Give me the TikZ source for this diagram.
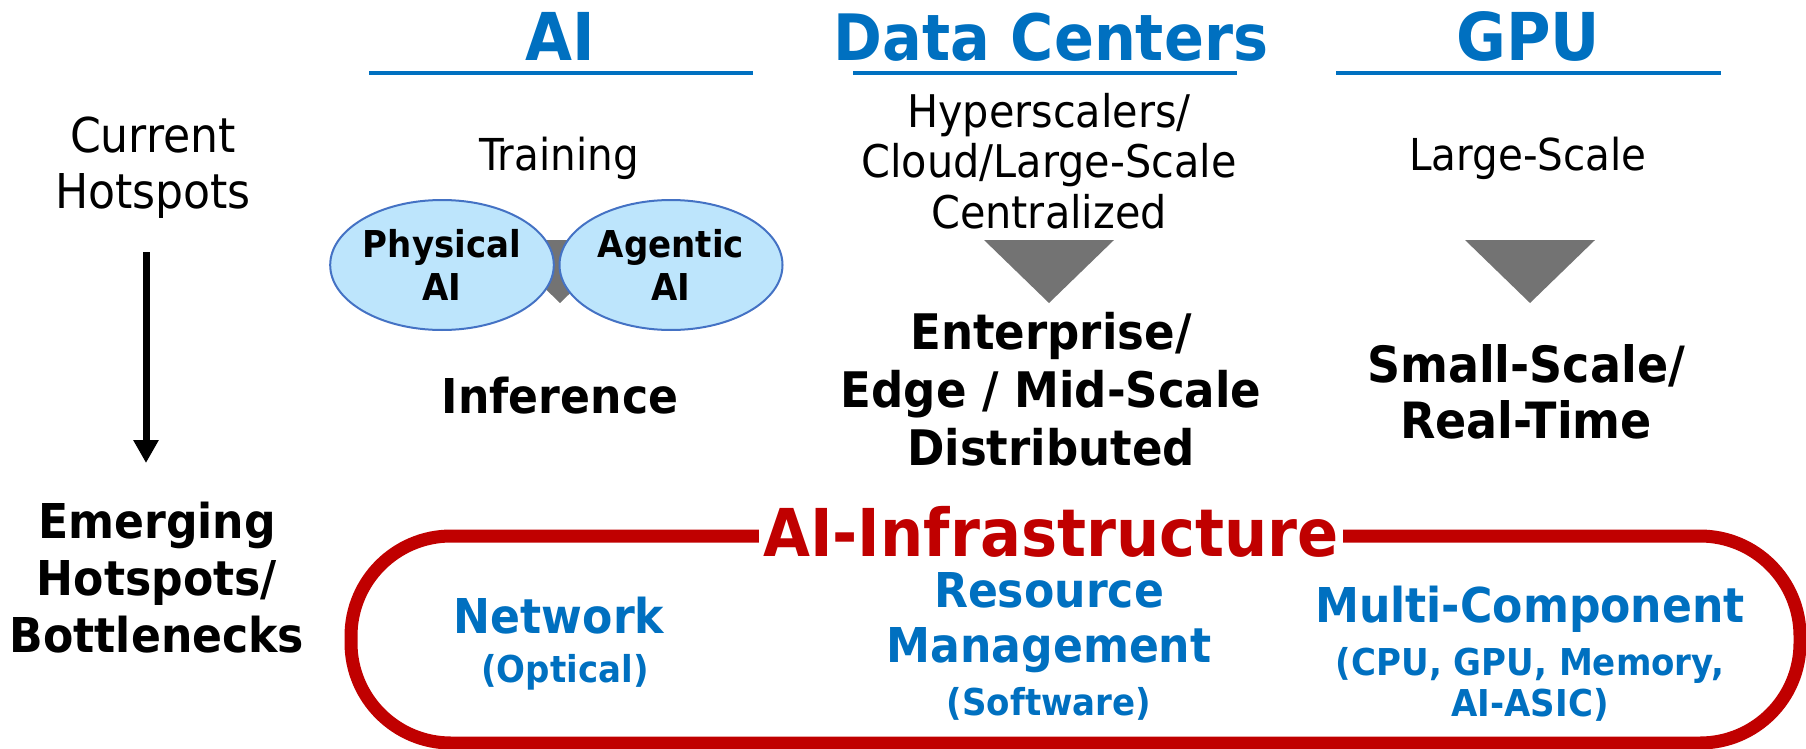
\documentclass[tikz,border=0pt]{standalone}
\usepackage{fontspec}
\setmainfont{DejaVu Sans}[FakeStretch=0.92]
\usetikzlibrary{shapes.geometric,arrows.meta}
\definecolor{hotblue}{HTML}{0070C0}
\definecolor{infrared}{HTML}{C00000}
\definecolor{trigray}{HTML}{737373}
\definecolor{ovalfill}{HTML}{BDE5FC}
\definecolor{ovalline}{HTML}{4472C4}
\def\downtri#1{(#1) ++(-65,0) -- ++(130,0) -- ++(-65,63) -- cycle}

\tikzset{
  head/.style={font=\bfseries\fontsize{66}{70}\selectfont,text=hotblue,anchor=base,inner sep=0},
  bar/.style={hotblue,line width=4},
  plain/.style={font=\fontsize{44}{50}\selectfont,align=center,anchor=base,inner sep=0},
  strong/.style={font=\bfseries\fontsize{48}{57}\selectfont,align=center,anchor=base,inner sep=0},
  oval/.style={ellipse,draw=ovalline,fill=ovalfill,line width=2,inner sep=0,align=center,
    font=\bfseries\fontsize{37}{43}\selectfont},
  item/.style={strong,text=hotblue,font=\bfseries\fontsize{48}{55}\selectfont},
  note/.style={strong,text=hotblue,font=\bfseries\fontsize{37}{41}\selectfont},
  flow/.style={line width=7,-{Triangle[width=24,length=23]}}
}

\begin{document}
\begin{tikzpicture}[x=1pt,y=-1pt]
\useasboundingbox (0,0) rectangle (1806,749);

% column heads
\node[head] (ai) at (560,61) {AI};
\node[head,font=\bfseries\fontsize{64}{70}\selectfont] (dc) at (1051,61) {Data Centers};
\node[head] (gpu) at (1528,61) {GPU};
\draw[bar] (369,73) -- (753,73);
\draw[bar] (853,73) -- (1237,73);
\draw[bar] (1336,73) -- (1721,73);

% shift triangles
\fill[trigray] \downtri{560,240};
\fill[trigray] \downtri{1049,240};
\fill[trigray] \downtri{1530,240};

% left side (base = last line)
\node[plain,font=\fontsize{48}{56}\selectfont] (cur) at (153,208) {Current\\Hotspots};
\node[strong] (emg) at (157,652) {Emerging\\Hotspots/\\Bottlenecks};
\coordinate (arrtop) at (146,252);
\coordinate (arrbot) at (146,463);
\draw[flow] (arrtop) -- (arrbot);

% AI column
\node[plain] (train) at (559,170) {Training};
\node[oval,minimum width=209,minimum height=130] (phys) at (442,265) {Physical\\AI};
\node[oval,minimum width=223,minimum height=130] (agent) at (671,265) {Agentic\\AI};
\node[strong,font=\bfseries\fontsize{48}{54}\selectfont] (infer) at (560,413) {Inference};

% data center column
\node[plain,font=\fontsize{45}{50.5}\selectfont] (hyper) at (1049,228) {Hyperscalers/\\Cloud/Large-Scale\\Centralized};
\node[strong,font=\bfseries\fontsize{49}{58}\selectfont] (ent) at (1051,465) {Enterprise/\\Edge / Mid-Scale\\Distributed};

% GPU column
\node[plain] (large) at (1528,170) {Large-Scale};
\node[strong,font=\bfseries\fontsize{50}{56}\selectfont] (small) at (1526,438) {Small-Scale/\\Real-Time};

% infrastructure box
\draw[infrared,line width=13,rounded corners=100] (351,536) rectangle (1800,743);
\node[font=\bfseries\fontsize{66}{70}\selectfont,text=infrared,fill=white,inner sep=4,anchor=base] (infra) at (1051,556) {AI-Infrastructure};

\node[item] (net) at (559,633) {Network};
\node[note] (netsub) at (565,682) {(Optical)};
\node[item] (res) at (1049,662) {Resource\\Management};
\node[note] (ressub) at (1049,715) {(Software)};
\node[item] (multi) at (1530,622) {Multi-Component};
\node[note] (multisub) at (1530,716) {(CPU, GPU, Memory,\\AI-ASIC)};
\end{tikzpicture}
\end{document}
